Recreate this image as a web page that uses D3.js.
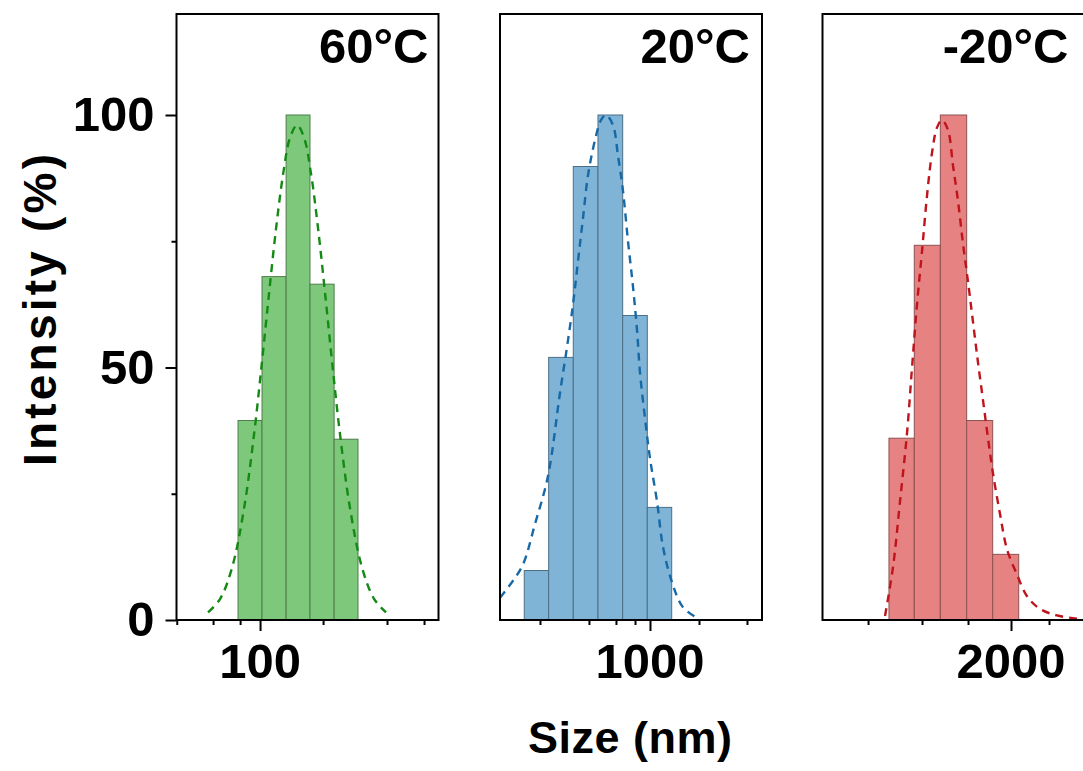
<!DOCTYPE html>
<html>
<head>
<meta charset="utf-8">
<script src="https://cdn.jsdelivr.net/npm/d3@7"></script>
<style>
  html, body { margin: 0; padding: 0; background: #fff; }
  svg text { font-family: "Liberation Sans", Arial, sans-serif; font-weight: bold; fill: #000; }
</style>
</head>
<body>
<svg id="chart" width="1083" height="771"></svg>
<script>
// ---------------- data ----------------
const titles = ["60°C", "20°C", "-20°C"];

// x-axis limits (nm, log axis)
const xDomain60 = [57.7, 323.6];
const xDomain20 = [372.8, 2089.3];
const xDomainM20 = [578.6, 3243.6];

// histogram bin edges (nm) and intensities (%)
const binEdges60 = [86.5, 101.3, 118.7, 138.9, 162.8, 190.5];
const intensity60 = [39.5, 68, 100, 66.5, 35.8];
const binEdges20 = [437.3, 513.5, 603.7, 710.2, 835.6, 982.4, 1153.5];
const intensity20 = [9.8, 52, 89.8, 100, 60.3, 22.3];
const binEdgesM20 = [896.0, 1058.4, 1256.2, 1494.0, 1773.0, 2104.0];
const intensityM20 = [36, 74.2, 100, 39.5, 13];

// fitted distribution curves
const fitSize60 = [71.0, 76.9, 83.2, 90.0, 96.1, 101.3, 106.1, 111.1, 116.4, 121.8, 127.6, 133.6, 139.9, 146.5, 153.4, 160.6, 169.3, 180.8, 195.6, 211.7, 229.1];
const fitInt60 = [1.5, 4.2, 10.4, 22.1, 36.7, 51.2, 64.7, 77.5, 88.3, 95.5, 98, 95.5, 88.3, 77.5, 64.7, 51.2, 36.7, 22.1, 10.4, 4.2, 1.5];
const fitSize20 = [372.8, 403.4, 433.6, 469.3, 511.2, 553.2, 579.2, 602.6, 622.6, 643.4, 664.9, 696.3, 724.4, 748.5, 783.8, 810.0, 837.1, 865.3, 894.2, 918.0, 936.3, 967.6, 1000, 1047.1, 1089.3, 1155.6, 1242.8, 1371.3];
const fitInt20 = [4.4, 7.5, 11, 19, 28.5, 45, 54, 62.5, 71, 79.5, 88, 95, 99, 100, 98, 92, 85, 75, 66, 57.5, 49, 40, 32, 23.5, 14.5, 7.5, 2.5, 0.3];
const fitSizeM20 = [873.0, 920.2, 963.6, 1009.0, 1042.8, 1077.6, 1113.6, 1150.8, 1189.2, 1228.8, 1270.0, 1321.4, 1365.4, 1411.0, 1458.4, 1507.2, 1557.6, 1609.4, 1663.6, 1719.0, 1776.6, 1860.4, 1948.0, 2080.6, 2222.2, 2420.6, 2706.8, 3149.6];
const fitIntM20 = [0.8, 10.5, 23.5, 37, 50, 62.5, 73, 84, 92.5, 97.5, 99, 97, 90, 83, 74.5, 67, 59, 51, 43.5, 36, 29, 21, 14, 9, 4.7, 2.2, 0.9, 0.2];

// x ticks (nm); only the major one is labelled
const ticks60 = [57.8, 73.4, 87.7, 100, 151.4, 230.6, 294.2];
const ticks20 = [485.0, 669.3, 799.4, 906.1, 1000, 1380.4, 1892.8];
const ticksM20 = [780.8, 1113.6, 1507.2, 2000, 2568.4];
const majorTicks = [100, 1000, 2000];

// y ticks
const yDomain = [0, 120];
const yMajorTicks = [0, 50, 100];
const yMinorTicks = [25, 75];

const xTitle = "Size (nm)";
const yTitle = "Intensity (%)";

// ---------------- styles / layout ----------------
const barFill = ["#7ec87b", "#7fb4d6", "#e68282"];
const barStroke = ["#4f7d4d", "#4d6f86", "#8d5252"];
const lineColor = ["#138a13", "#1668a6", "#c0141c"];

const panelLeft = [176.5, 500, 822.5];
const panelW = 262;
const plotTop = 14, plotBottom = 620;
const titleRightOffset = [10, 12, 16];

const panels = [
  { title: titles[0], domain: xDomain60, edges: binEdges60, vals: intensity60, fx: fitSize60, fy: fitInt60, ticks: ticks60, major: majorTicks[0] },
  { title: titles[1], domain: xDomain20, edges: binEdges20, vals: intensity20, fx: fitSize20, fy: fitInt20, ticks: ticks20, major: majorTicks[1] },
  { title: titles[2], domain: xDomainM20, edges: binEdgesM20, vals: intensityM20, fx: fitSizeM20, fy: fitIntM20, ticks: ticksM20, major: majorTicks[2] }
];

const svg = d3.select("#chart");
const y = d3.scaleLinear().domain(yDomain).range([plotBottom, plotTop]);

panels.forEach((p, i) => {
  const x0 = panelLeft[i], x1 = x0 + panelW;
  const x = d3.scaleLog().domain(p.domain).range([x0, x1]);
  const g = svg.append("g");

  const clipId = "clip" + i;
  svg.append("clipPath").attr("id", clipId)
    .append("rect").attr("x", x0).attr("y", plotTop).attr("width", panelW).attr("height", plotBottom - plotTop);

  // bars
  const bins = p.vals.map((v, j) => ({ a: p.edges[j], b: p.edges[j + 1], v }));
  g.append("g").attr("clip-path", `url(#${clipId})`)
    .selectAll("rect").data(bins).join("rect")
    .attr("x", d => x(d.a))
    .attr("width", d => x(d.b) - x(d.a))
    .attr("y", d => y(d.v))
    .attr("height", d => y(0) - y(d.v))
    .attr("fill", barFill[i])
    .attr("stroke", barStroke[i])
    .attr("stroke-width", 1);

  // fit curve
  const pts = p.fx.map((s, j) => [s, p.fy[j]]);
  const line = d3.line().x(d => x(d[0])).y(d => y(d[1])).curve(d3.curveCatmullRom.alpha(0.5));
  g.append("path").attr("clip-path", `url(#${clipId})`)
    .attr("d", line(pts))
    .attr("fill", "none")
    .attr("stroke", lineColor[i])
    .attr("stroke-width", 2.4)
    .attr("stroke-dasharray", "8,6");

  // x axis ticks
  const xAxis = d3.axisBottom(x).tickValues(p.ticks).tickFormat("").tickSizeOuter(0)
    .tickSizeInner(5);
  const ax = g.append("g").attr("transform", `translate(0,${plotBottom})`).call(xAxis);
  ax.select(".domain").remove();
  ax.selectAll(".tick line").attr("stroke", "#000").attr("stroke-width", 2)
    .attr("y2", d => d === p.major ? 11 : 5);

  // major label
  g.append("text")
    .attr("x", x(p.major))
    .attr("y", 678)
    .attr("text-anchor", "middle")
    .attr("font-size", 49)
    .text(d3.format("d")(p.major));

  // frame
  g.append("rect")
    .attr("x", x0).attr("y", plotTop).attr("width", panelW).attr("height", plotBottom - plotTop)
    .attr("fill", "none").attr("stroke", "#000").attr("stroke-width", 2);

  // title
  g.append("text")
    .attr("x", x1 - titleRightOffset[i])
    .attr("y", 63)
    .attr("text-anchor", "end")
    .attr("font-size", 49)
    .text(p.title);

  // y axis on first panel
  if (i === 0) {
    const yAxis = d3.axisLeft(y).tickValues(yMajorTicks).tickSize(11).tickSizeOuter(0)
      .tickPadding(11).tickFormat(d3.format("d"));
    const ay = g.append("g").attr("transform", `translate(${x0},0)`).call(yAxis);
    ay.select(".domain").remove();
    ay.selectAll(".tick line").attr("stroke", "#000").attr("stroke-width", 2);
    ay.selectAll(".tick text").attr("font-size", 49)
      .attr("font-family", "'Liberation Sans', Arial, sans-serif")
      .attr("font-weight", "bold").attr("fill", "#000");
    const yMinor = d3.axisLeft(y).tickValues(yMinorTicks).tickSize(5).tickFormat("");
    const am = g.append("g").attr("transform", `translate(${x0},0)`).call(yMinor);
    am.select(".domain").remove();
    am.selectAll(".tick line").attr("stroke", "#000").attr("stroke-width", 2);
  }
});

// axis titles
svg.append("text")
  .attr("x", 630).attr("y", 753)
  .attr("text-anchor", "middle")
  .attr("font-size", 45)
  .attr("textLength", 204)
  .text(xTitle);

svg.append("text")
  .attr("transform", "translate(56,310) rotate(-90)")
  .attr("text-anchor", "middle")
  .attr("font-size", 46)
  .attr("textLength", 312)
  .text(yTitle);
</script>
</body>
</html>
